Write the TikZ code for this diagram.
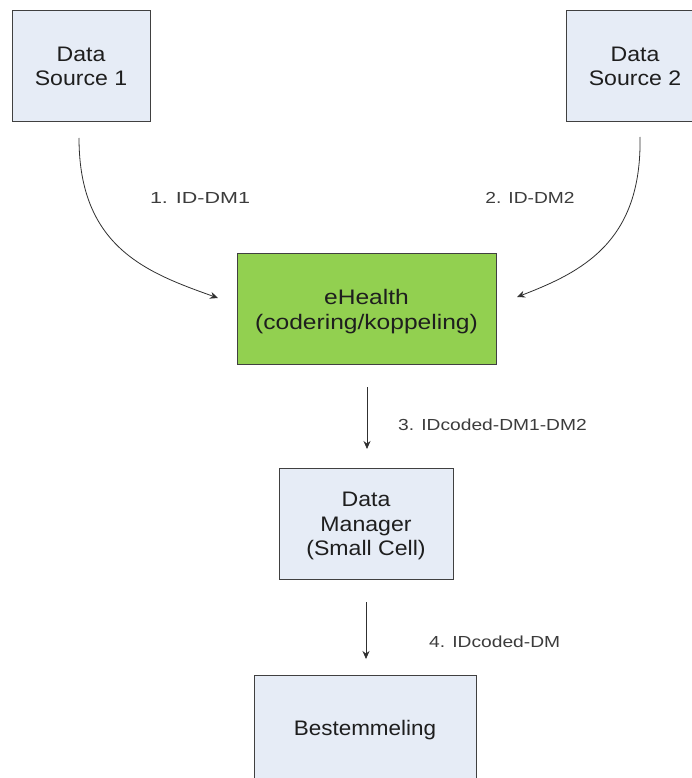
\documentclass[tikz,border=0pt]{standalone}
\usepackage{fontspec}
\setmainfont{Liberation Sans}
\usetikzlibrary{arrows.meta,calc}
\definecolor{boxfill}{HTML}{E6ECF6}
\definecolor{boxline}{HTML}{404040}
\definecolor{ehgreen}{HTML}{92D050}
\definecolor{txt}{HTML}{1E1E1E}
\definecolor{lbl}{HTML}{3C3C3C}
\definecolor{conn}{HTML}{303030}
\newcommand{\wtext}[2]{\raisebox{0pt}[\dimexpr\height+6pt\relax][\depth]{\scalebox{#1}[1]{\begin{tabular}{@{}c@{}}#2\end{tabular}}}}
\begin{document}
\begin{tikzpicture}[x=1pt,y=-1pt,
  box/.style={draw=boxline,line width=0.9pt,fill=boxfill,rectangle,align=center,
    text=txt,font=\fontsize{21}{24.5}\selectfont,inner sep=0pt},
  greenbox/.style={box,fill=ehgreen},
  lab/.style={text=lbl,font=\fontsize{16}{18}\selectfont,inner sep=0pt,xscale=1.2},
  arr/.style={draw=conn,line width=0.8pt,-{Stealth[length=8pt,width=7pt]}}]
\useasboundingbox (0,0) rectangle (692,778);
\fill[white] (0,0) rectangle (692,778);
\node[box,minimum width=138pt,minimum height=111pt] (ds1) at (81,65.5) {\wtext{1.1}{Data\\Source 1}};
\node[box,minimum width=138pt,minimum height=111pt] (ds2) at (635,65.5) {\wtext{1.1}{Data\\Source 2}};
\node[greenbox,minimum width=259pt,minimum height=111pt] (eh) at (366.5,309) {\wtext{1.17}{eHealth\\(codering/koppeling)}};
\node[box,minimum width=174pt,minimum height=111pt] (dm) at (366,523.5) {\wtext{1.1}{Data\\Manager\\(Small Cell)}};
\node[box,minimum width=222pt,minimum height=111pt] (best) at (365,730.5) {\scalebox{1.07}[1]{Bestemmeling}};
\coordinate (a1s) at (79,138);
\coordinate (a1e) at (218,298);
\coordinate (a2s) at (640,137);
\coordinate (a2e) at (517,297);
\coordinate (a3s) at (367,387);
\coordinate (a3e) at (367,449);
\coordinate (a4s) at (366,602);
\coordinate (a4e) at (366,659);
\draw[arr] (a1s) .. controls ($(a1s)+(0,110)$) and ($(a1e)+(-70,-25)$) .. (a1e);
\draw[arr] (a2s) .. controls ($(a2s)+(2,105)$) and ($(a2e)+(65,-25)$) .. (a2e);
\draw[arr] (a3s) -- (a3e);
\draw[arr] (a4s) -- (a4e);
\node[lab,xscale=1.12] (l1) at (200,198) {1. ID-DM1};
\node[lab] (l2) at (530,198) {2. ID-DM2};
\node[lab,anchor=west] (l3) at (398,425) {3. IDcoded-DM1-DM2};
\node[lab,anchor=west] (l4) at (429,642) {4. IDcoded-DM};
\end{tikzpicture}
\end{document}
